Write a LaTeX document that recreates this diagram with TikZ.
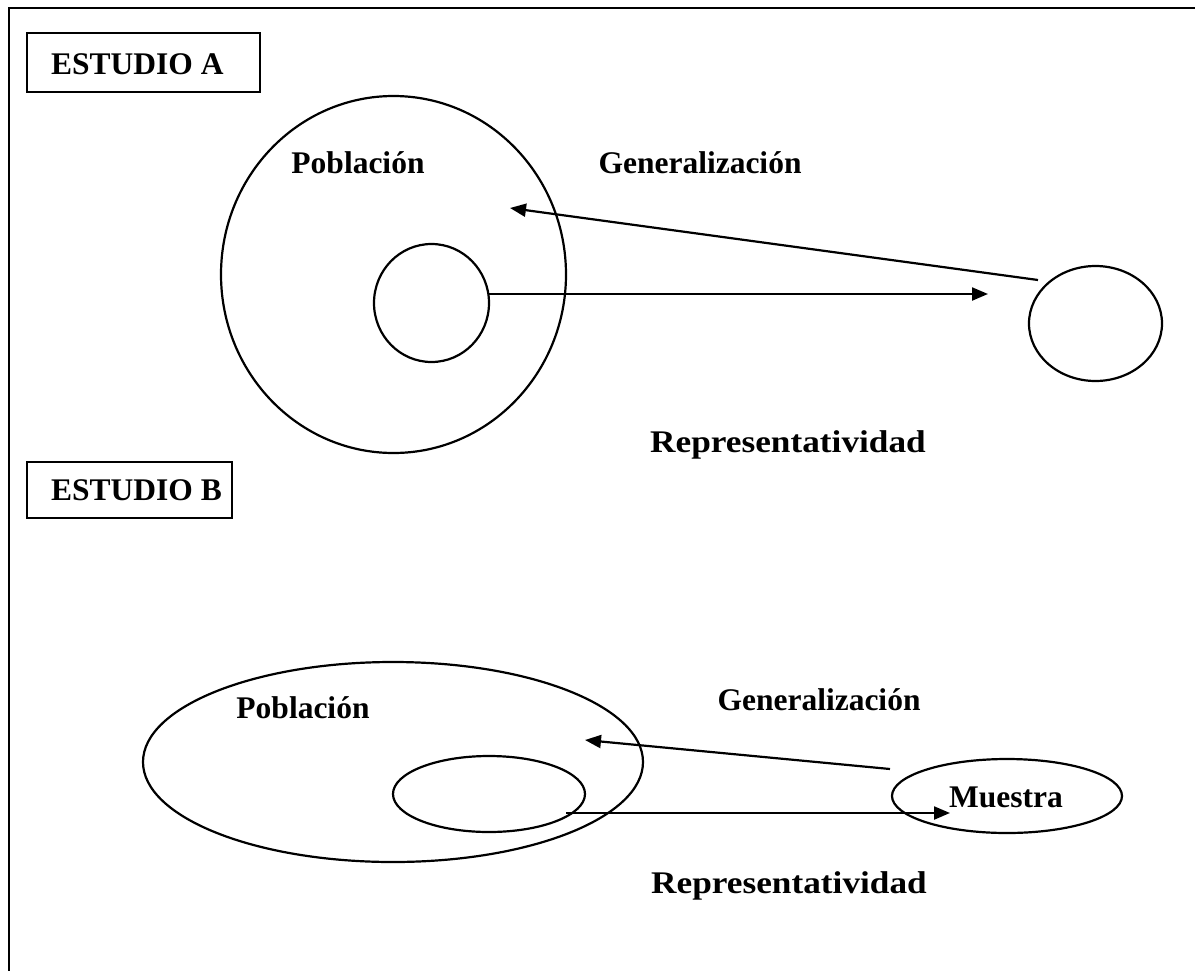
\documentclass[tikz,border=0pt]{standalone}
\usepackage{fontspec}
\usepackage{graphicx}
\setmainfont{Liberation Serif}
\usetikzlibrary{arrows.meta,shapes.geometric}
\begin{document}
\begin{tikzpicture}[x=1pt,y=-1pt,
  line width=2.2pt,
  lbl/.style={font=\fontsize{31.5}{36}\selectfont\bfseries, inner sep=0pt},
  titlebox/.style={draw, line width=2.2pt, inner sep=0pt},
  ring/.style={draw, ellipse, line width=2.2pt, inner sep=0pt},
  conn/.style={line width=2.2pt, -{Triangle[length=16pt,width=13pt]}}]
\useasboundingbox (0,0) rectangle (1195,970);
% outer frame (right and bottom sides fall outside the page)
\begin{scope}
\clip (0,0) rectangle (1195,970);
\draw (9,990) -- (9,8) -- (1210,8);
\end{scope}

% ---------- Estudio A ----------
\draw[titlebox] (27,33) rectangle (260,92);
\node[lbl, anchor=west] (tA) at (50,64) {ESTUDIO A};

\node[ring, minimum width=345pt, minimum height=357pt] (popA) at (393.5,274.5) {};
\node[ring, minimum width=115pt, minimum height=118pt] (subA) at (431.5,303) {};
\node[ring, minimum width=133pt, minimum height=115pt] (musA) at (1095.5,323.5) {};

\node[lbl] (lpopA) at (358,163) {Población};
\node[lbl] (lgenA) at (700,163) {Generalización};
\node[lbl] (lrepA) at (788,445) {\scalebox{1.12}[1]{Representatividad}};

\coordinate (a1) at (489,294);
\coordinate (a2) at (988,294);
\coordinate (g1) at (1038,280);
\coordinate (g2) at (510,208);
\draw[conn] (a1) -- (a2);
\draw[conn] (g1) -- (g2);

% ---------- Estudio B ----------
\draw[titlebox] (27,462) rectangle (232,518);
\node[lbl, anchor=west] (tB) at (50,490) {ESTUDIO B};

\node[ring, minimum width=500pt, minimum height=200pt] (popB) at (393,762) {};
\node[ring, minimum width=192pt, minimum height=76pt] (subB) at (489,794) {};
\node[ring, minimum width=230pt, minimum height=74pt] (musB) at (1007,796) {};

\node[lbl] (lpopB) at (303,708) {Población};
\node[lbl] (lgenB) at (819,700) {Generalización};
\node[lbl] (lmusB) at (1006,797) {Muestra};
\node[lbl] (lrepB) at (789,886) {\scalebox{1.12}[1]{Representatividad}};

\coordinate (b1) at (566,813);
\coordinate (b2) at (950,813);
\coordinate (h1) at (890,769);
\coordinate (h2) at (585,740);
\draw[conn] (b1) -- (b2);
\draw[conn] (h1) -- (h2);
\end{tikzpicture}
\end{document}
